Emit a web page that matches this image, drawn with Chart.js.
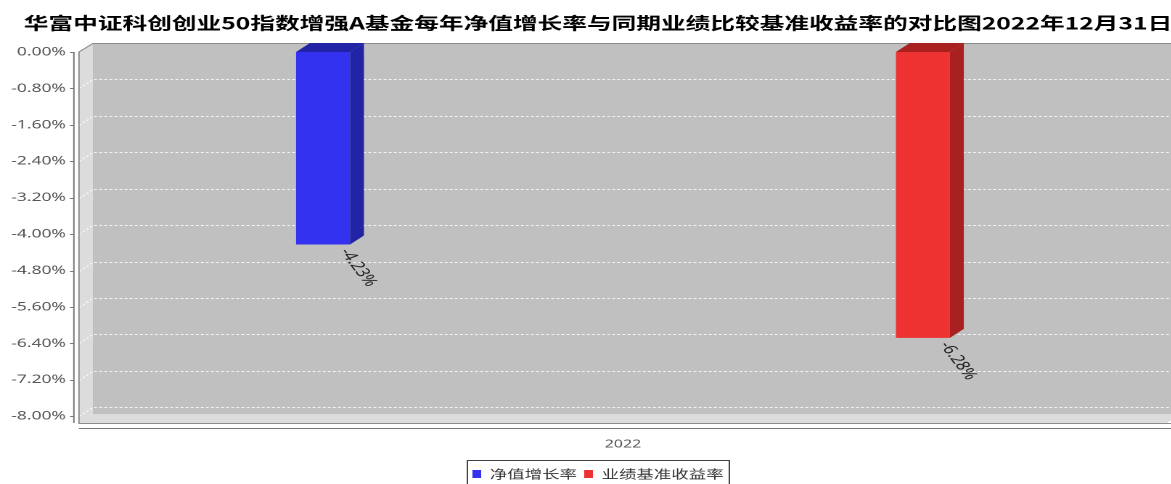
<!DOCTYPE html>
<html lang="zh-CN">
<head>
    <meta charset="UTF-8">
    <title>华富中证科创创业50指数增强A 净值增长率对比图</title>
    <script src="https://cdn.jsdelivr.net/npm/chart.js"></script>
    <style>
        html, body { margin: 0; padding: 0; overflow: hidden; background: #fff; }
    </style>
</head>
<body>
    <!-- 原图是横向拉宽过的，画布按 824 宽绘制再拉伸到 1196px -->
    <canvas id="chart" width="824" height="492" style="width:1196px;height:492px;"></canvas>

    <script>
        // 数据
        const categories = ['2022'];
        const seriesNames = ['净值增长率', '业绩基准收益率'];
        const navGrowth = [-4.23];
        const benchmarkReturn = [-6.28];
        const yTicks = [0, -0.8, -1.6, -2.4, -3.2, -4.0, -4.8, -5.6, -6.4, -7.2, -8.0];
        const yMin = -8.15;
        const yMax = 0;
        const titleText = '华富中证科创创业50指数增强A基金每年净值增长率与同期业绩比较基准收益率的对比图2022年12月31日';

        // 3D 效果的偏移量
        const DX = 9.6, DY = 9;

        // 画墙面、网格线、坐标轴，再给柱子补上顶面和侧面
        const plot3d = {
            id: 'plot3d',
            beforeDatasetsDraw(chart) {
                const { ctx, chartArea: a, scales: { y } } = chart;
                ctx.save();

                // 背墙
                ctx.fillStyle = '#c0c0c0';
                ctx.fillRect(a.left + DX, a.top - DY, a.right - a.left, a.bottom - a.top);

                // 左墙和地面
                ctx.fillStyle = '#dcdcdc';
                ctx.beginPath();
                ctx.moveTo(a.left, a.top);
                ctx.lineTo(a.left + DX, a.top - DY);
                ctx.lineTo(a.left + DX, a.bottom - DY);
                ctx.lineTo(a.left, a.bottom);
                ctx.closePath();
                ctx.fill();
                ctx.beginPath();
                ctx.moveTo(a.left, a.bottom);
                ctx.lineTo(a.left + DX, a.bottom - DY);
                ctx.lineTo(a.right + DX, a.bottom - DY);
                ctx.lineTo(a.right, a.bottom);
                ctx.closePath();
                ctx.fill();

                // 网格线（虚线）
                ctx.strokeStyle = 'rgba(255,255,255,0.8)';
                ctx.lineWidth = 1;
                ctx.setLineDash([2, 1.5]);
                y.ticks.forEach(t => {
                    const py = Math.round(y.getPixelForValue(t.value)) + 0.5;
                    ctx.beginPath();
                    ctx.moveTo(a.left, py);
                    ctx.lineTo(a.left + DX, py - DY);
                    ctx.lineTo(a.right + DX, py - DY);
                    ctx.stroke();
                });
                ctx.setLineDash([]);

                // 外框
                ctx.strokeStyle = '#8c8c8c';
                ctx.beginPath();
                ctx.moveTo(a.right + DX, a.top - DY + 0.5);
                ctx.lineTo(a.left + DX, a.top - DY + 0.5);
                ctx.lineTo(a.left, a.top);
                ctx.lineTo(a.left, a.bottom + 0.5);
                ctx.lineTo(a.right + DX, a.bottom + 0.5);
                ctx.stroke();

                // Y 轴线和刻度
                const ax = a.left - 3.5;
                ctx.strokeStyle = '#777';
                ctx.beginPath();
                ctx.moveTo(ax, a.top);
                ctx.lineTo(ax, a.bottom);
                y.ticks.forEach(t => {
                    const py = Math.round(y.getPixelForValue(t.value)) + 0.5;
                    ctx.moveTo(ax - 2.7, py);
                    ctx.lineTo(ax, py);
                });
                ctx.stroke();

                // X 轴线
                ctx.beginPath();
                ctx.moveTo(a.left, a.bottom + 5.5);
                ctx.lineTo(chart.width, a.bottom + 5.5);
                ctx.stroke();
                ctx.restore();
            },
            afterDatasetsDraw(chart) {
                const ctx = chart.ctx;
                ctx.save();
                chart.data.datasets.forEach((ds, i) => {
                    if (!ds.sideColor) return;
                    chart.getDatasetMeta(i).data.forEach((bar, j) => {
                        const v = ds.data[j];
                        if (v == null) return;
                        const { x, y, base, width } = bar.getProps(['x', 'y', 'base', 'width'], true);
                        const l = x - width / 2, r = x + width / 2;
                        const top = Math.min(y, base), bot = Math.max(y, base);
                        ctx.fillStyle = ds.sideColor;
                        // 顶面
                        ctx.beginPath();
                        ctx.moveTo(l, top);
                        ctx.lineTo(l + DX, top - DY);
                        ctx.lineTo(r + DX, top - DY);
                        ctx.lineTo(r, top);
                        ctx.closePath();
                        ctx.fill();
                        // 侧面
                        ctx.beginPath();
                        ctx.moveTo(r, top);
                        ctx.lineTo(r + DX, top - DY);
                        ctx.lineTo(r + DX, bot - DY);
                        ctx.lineTo(r, bot);
                        ctx.closePath();
                        ctx.fill();
                        // 数值标签，斜着写
                        ctx.save();
                        ctx.translate(r - 4, bot + 5);
                        ctx.rotate(62 * Math.PI / 180);
                        ctx.fillStyle = '#222';
                        ctx.font = '13px "Noto Sans"';
                        ctx.textAlign = 'left';
                        ctx.textBaseline = 'middle';
                        ctx.fillText(v.toFixed(2) + '%', 0, 0);
                        ctx.restore();
                    });
                });
                ctx.restore();
            },
            afterDraw(chart) {
                // 图例外框
                const hb = chart.legend.legendHitBoxes;
                if (!hb.length) return;
                const ctx = chart.ctx;
                const x0 = Math.min(...hb.map(b => b.left)) - 3.5;
                const x1 = Math.max(...hb.map(b => b.left + b.width)) + 4;
                const y0 = hb[0].top - 8;
                ctx.save();
                ctx.strokeStyle = '#444';
                ctx.lineWidth = 1;
                ctx.strokeRect(x0, y0 + 0.5, x1 - x0, 30);
                ctx.restore();
            }
        };

        const ctxChart = document.getElementById('chart').getContext('2d');
        new Chart(ctxChart, {
            type: 'bar',
            data: {
                labels: categories,
                datasets: [
                    {
                        label: seriesNames[0],
                        data: navGrowth,
                        backgroundColor: '#3232f0',
                        sideColor: '#2323a6',
                        borderWidth: 0
                    },
                    {
                        // 占位，把两根柱子拉开
                        label: '',
                        data: [null],
                        backgroundColor: 'rgba(0,0,0,0)',
                        borderWidth: 0
                    },
                    {
                        label: seriesNames[1],
                        data: benchmarkReturn,
                        backgroundColor: '#ee3232',
                        sideColor: '#a82020',
                        borderWidth: 0
                    }
                ]
            },
            options: {
                responsive: false,
                devicePixelRatio: 2,
                animation: false,
                events: [],
                categoryPercentage: 0.827,
                barPercentage: 0.18,
                layout: { padding: { bottom: 2 } },
                plugins: {
                    title: {
                        display: true,
                        text: titleText,
                        color: '#000',
                        font: { family: '"Noto Sans CJK SC"', size: 17, weight: 'bold' },
                        padding: { top: 13, bottom: 18.6 }
                    },
                    legend: {
                        position: 'bottom',
                        labels: {
                            filter: item => item.text !== '',
                            boxWidth: 6,
                            boxHeight: 8,
                            padding: 5,
                            color: '#333',
                            font: { family: '"Noto Sans CJK SC"', size: 12 }
                        }
                    },
                    tooltip: { enabled: false }
                },
                scales: {
                    x: {
                        afterFit: s => { s.height = 40; },
                        grid: { display: false, drawTicks: false },
                        border: { display: false },
                        ticks: {
                            padding: 15,
                            color: '#555',
                            font: { family: '"Noto Sans"', size: 11 }
                        }
                    },
                    y: {
                        min: yMin,
                        max: yMax,
                        afterBuildTicks: s => { s.ticks = yTicks.map(v => ({ value: v })); },
                        afterFit: s => { s.width = 54.4; },
                        grid: { display: false, drawTicks: false },
                        border: { display: false },
                        ticks: {
                            padding: 9,
                            color: '#555',
                            font: { family: '"Noto Sans"', size: 12 },
                            callback: v => v.toFixed(2) + '%'
                        }
                    },
                    // 右侧留白（3D 背墙的厚度），不影响标题和图例居中
                    yRight: {
                        position: 'right',
                        afterFit: s => { s.width = 20; },
                        grid: { display: false },
                        border: { display: false },
                        ticks: { display: false }
                    }
                }
            },
            plugins: [plot3d]
        });
    </script>
</body>
</html>
